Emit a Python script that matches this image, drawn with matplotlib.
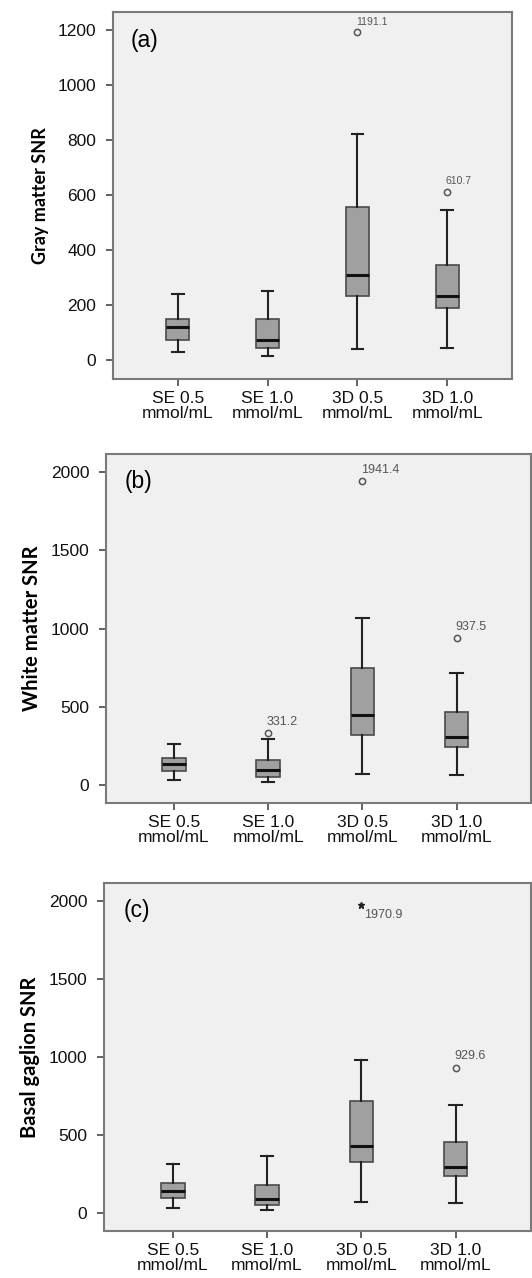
import numpy as np
import matplotlib
matplotlib.use("Agg")
import matplotlib.pyplot as plt

plt.rcParams['font.family'] = ['Liberation Sans', 'DejaVu Sans']

groups = ['SE 0.5\nmmol/mL', 'SE 1.0\nmmol/mL', '3D 0.5\nmmol/mL', '3D 1.0\nmmol/mL']

# (a) gray matter
gm_low = [28, 16, 39, 45]
gm_q1 = [73, 42, 232, 188]
gm_med = [119, 72, 308, 234]
gm_q3 = [148, 148, 556, 345]
gm_high = [240, 252, 821, 544]

# (b) white matter
wm_low = [36, 23, 70, 68]
wm_q1 = [91, 51, 323, 245]
wm_med = [138, 96, 447, 309]
wm_q3 = [172, 162, 747, 466]
wm_high = [266, 296, 1066, 719]

# (c) basal ganglion
bg_low = [34, 21, 72, 66]
bg_q1 = [100, 51, 326, 241]
bg_med = [145, 94, 433, 298]
bg_q3 = [194, 179, 718, 454]
bg_high = [313, 369, 983, 691]

# outliers: (group index, value, label, marker)
gm_out = [(2, 1191.1, '1191.1', 'o'), (3, 610.7, '610.7', 'o')]
wm_out = [(1, 331.2, '331.2', 'o'), (2, 1941.4, '1941.4', 'o'), (3, 937.5, '937.5', 'o')]
bg_out = [(2, 1970.9, '1970.9', '*'), (3, 929.6, '929.6', 'o')]

fig = plt.figure(figsize=(5.32, 12.78), dpi=100)

W, H = 532, 1278
def make_axes(l, r, t, b):
    return fig.add_axes([l / W, 1 - b / H, (r - l) / W, (b - t) / H])

panels = [
    dict(ax=make_axes(113, 512, 12, 379), low=gm_low, q1=gm_q1, med=gm_med, q3=gm_q3, high=gm_high,
         out=gm_out, ylabel='Gray matter SNR', tag='(a)', ylim=(-69, 1265), xlim=(0.28, 4.72),
         yticks=[0, 200, 400, 600, 800, 1000, 1200], osize=7.5, lsize=13),
    dict(ax=make_axes(106, 531, 454, 803), low=wm_low, q1=wm_q1, med=wm_med, q3=wm_q3, high=wm_high,
         out=wm_out, ylabel='White matter SNR', tag='(b)', ylim=(-113, 2115), xlim=(0.278, 4.79),
         yticks=[0, 500, 1000, 1500, 2000], osize=9, lsize=14.5),
    dict(ax=make_axes(104, 531, 883, 1231), low=bg_low, q1=bg_q1, med=bg_med, q3=bg_q3, high=bg_high,
         out=bg_out, ylabel='Basal gaglion SNR', tag='(c)', ylim=(-113, 2113), xlim=(0.27, 4.8),
         yticks=[0, 500, 1000, 1500, 2000], osize=9, lsize=14.5),
]

for p in panels:
    ax = p['ax']
    stats = []
    for i in range(len(groups)):
        stats.append(dict(whislo=p['low'][i], q1=p['q1'][i], med=p['med'][i],
                          q3=p['q3'][i], whishi=p['high'][i], fliers=[]))
    ax.bxp(stats, positions=[1, 2, 3, 4], widths=0.25, capwidths=0.13, patch_artist=True,
           showfliers=False,
           boxprops=dict(facecolor='#a0a0a0', edgecolor='#4a4a4a', linewidth=1.2),
           medianprops=dict(color='#111111', linewidth=2.2),
           whiskerprops=dict(color='#222222', linewidth=1.5),
           capprops=dict(color='#222222', linewidth=1.5))

    for gi, val, lab, mk in p['out']:
        if mk == '*':
            ax.plot(gi + 1, val, marker='*', color='#222222', markersize=5, linestyle='none')
            ax.annotate(lab, (gi + 1, val), xytext=(2, -3), textcoords='offset points',
                        ha='left', va='top', fontsize=p['osize'], color='#555555')
        else:
            ax.plot(gi + 1, val, marker='o', markerfacecolor='none', markeredgecolor='#555555',
                    markersize=4.5, markeredgewidth=1.1, linestyle='none')
            ax.annotate(lab, (gi + 1, val), xytext=(-1, 4), textcoords='offset points',
                        ha='left', va='bottom', fontsize=p['osize'], color='#555555')

    ax.set_facecolor('#f0f0f0')
    ax.set_xlim(*p['xlim'])
    ax.set_ylim(*p['ylim'])
    ax.set_yticks(p['yticks'])
    ax.set_xticks([1, 2, 3, 4])
    ax.set_xticklabels(groups, fontsize=12.5, color='#111111', linespacing=1.0)
    ax.tick_params(axis='y', labelsize=12.5, labelcolor='#111111', pad=7)
    ax.tick_params(direction='out', length=5, width=1.3, color='#555555')
    for s in ax.spines.values():
        s.set_color('#7a7a7a')
        s.set_linewidth(1.5)
    ax.set_ylabel(p['ylabel'], fontsize=p['lsize'], fontweight='bold', family='Lato', labelpad=6)
    ax.text(0.045, 0.955, p['tag'], transform=ax.transAxes, fontsize=16.5, ha='left', va='top')

fig.savefig('out.png', dpi=100, facecolor='white')
